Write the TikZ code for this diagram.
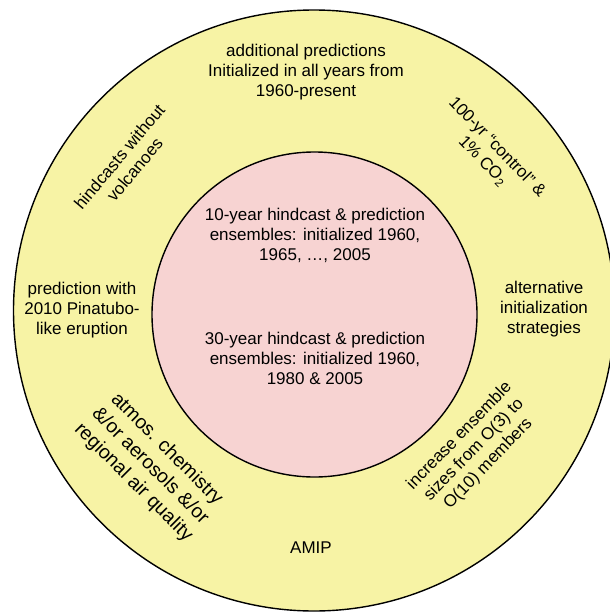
\documentclass[tikz,border=0pt]{standalone}
\usepackage{fontspec}
\setmainfont{Liberation Sans}
\definecolor{ringyellow}{RGB}{247,243,165}
\definecolor{corepink}{RGB}{247,211,210}
\tikzset{
  ring/.style={fill=ringyellow, draw=black, line width=1.4pt},
  core/.style={fill=corepink, draw=black, line width=1.4pt},
  lbl/.style={align=center, inner sep=0pt, font=\fontsize{17}{20}\selectfont},
  biglbl/.style={align=center, inner sep=0pt, font=\fontsize{19.5}{23.5}\selectfont}
}
\begin{document}
\begin{tikzpicture}[x=1pt, y=-1pt]
\useasboundingbox (0,0) rectangle (610,613);
\clip (0,0) rectangle (610,613);
\fill[white] (0,0) rectangle (610,613);
\node[ring, circle, minimum size=601pt, inner sep=0pt] (outer) at (314,310.5) {};
\node[core, circle, minimum size=325pt, inner sep=0pt] (inner) at (314.5,314.5) {};
\node[lbl] (top) at (306,72) {additional predictions\\Initialized in all years from\\1960-present};
\node[lbl] (in1) at (315,235) {10-year hindcast \& prediction\\ensembles: initialized 1960,\\1965, \ldots, 2005};
\node[lbl] (in2) at (315,358) {30-year hindcast \& prediction\\ensembles: initialized 1960,\\1980 \& 2005};
\node[lbl] (left) at (82,310) {prediction with\\2010 Pinatubo-\\like eruption};
\node[lbl] (right) at (544,309) {alternative\\initialization\\strategies};
\node[lbl] (amip) at (311,548) {AMIP};
\node[lbl, rotate=50] (volc) at (127,163) {hindcasts without\\volcanoes};
\node[lbl, rotate=-46] (ctrl) at (490,154) {100-yr “control” \&\\1\% CO\textsubscript{2}};
\node[lbl, rotate=46] (ens) at (474,450) {increase ensemble\\sizes from O(3) to\\O(10) members};
\node[biglbl, rotate=-45] (chem) at (150,466) {atmos. chemistry\\\&/or aerosols \&/or\\regional air quality};
\end{tikzpicture}
\end{document}
